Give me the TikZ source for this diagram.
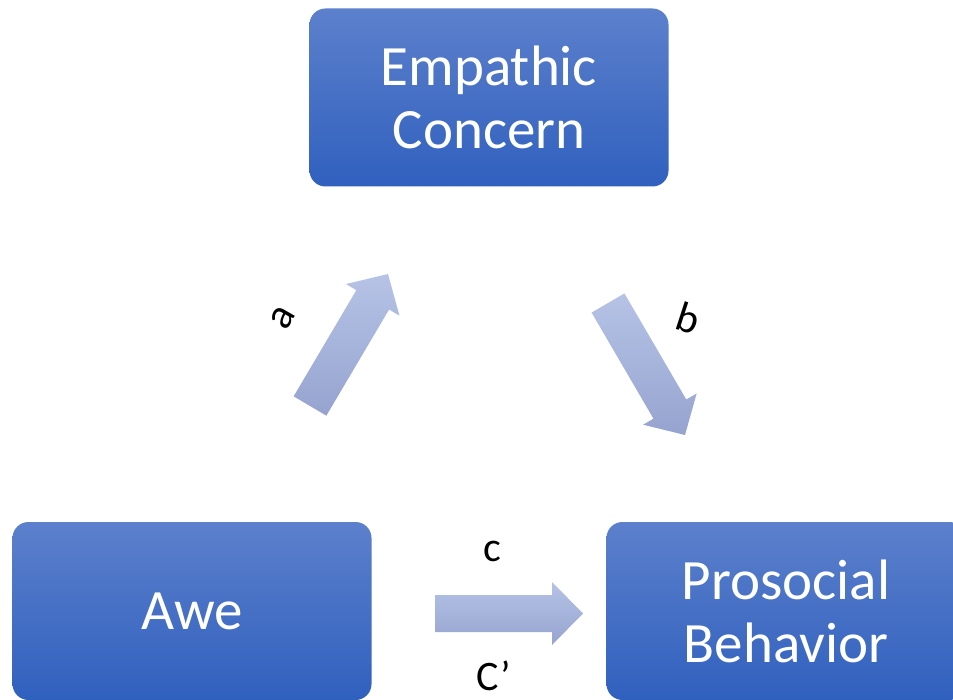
\documentclass[tikz,border=0pt]{standalone}
\usepackage{fontspec}
\setmainfont{Carlito}
\usetikzlibrary{calc}
\definecolor{boxtop}{RGB}{92,128,204}
\definecolor{boxbot}{RGB}{48,96,190}
\definecolor{arrtop}{RGB}{182,195,230}
\definecolor{arrbot}{RGB}{150,163,207}
\tikzset{
  box/.style={rectangle, rounded corners=16pt, top color=boxtop, bottom color=boxbot,
    draw=none, text=white, align=center, minimum width=359pt, minimum height=178pt,
    font={\fontsize{57}{63}\selectfont}},
  lbl/.style={text=black, font={\fontsize{42}{46}\selectfont}, inner sep=0pt},
  blockarrow/.style={top color=arrtop, bottom color=arrbot, draw=none}
}
\newcommand{\blockarr}[5]{%
  % #1 tail, #2 tip, #3 half shaft width, #4 half head width, #5 head length
  \path[blockarrow]
    ($(#1)!#3!90:(#2)$) --
    ($($(#2)!#5!(#1)$)!#3!90:(#2)$) --
    ($($(#2)!#5!(#1)$)!#4!90:(#2)$) --
    (#2) --
    ($($(#2)!#5!(#1)$)!#4!-90:(#2)$) --
    ($($(#2)!#5!(#1)$)!#3!-90:(#2)$) --
    ($(#1)!#3!-90:(#2)$) -- cycle;}
\begin{document}
\begin{tikzpicture}[x=1pt,y=-1pt]
\useasboundingbox (0,0) rectangle (953,700);
\clip (0,0) rectangle (953,700);
\fill[white] (0,0) rectangle (953,700);

\node[box] (emp) at (489,97.5) {Empathic\\Concern};
\node[box] (awe) at (192,611) {Awe};
\node[box] (pro) at (786,611) {Prosocial\\Behavior};

\coordinate (atail) at (310,406);
\coordinate (atip) at (388,274);
\coordinate (btail) at (608,303);
\coordinate (btip) at (685,435);
\coordinate (ctail) at (435,613.5);
\coordinate (ctip) at (583,613.5);

\blockarr{atail}{atip}{19pt}{31pt}{30pt}
\blockarr{btail}{btip}{19pt}{31pt}{30pt}
\blockarr{ctail}{ctip}{18.5pt}{31.5pt}{31pt}

\node[lbl, rotate=60] (la) at (283,318) {a};
\node[lbl, rotate=-18] (lb) at (688,318) {b};
\node[lbl] (lc) at (492,551) {c};
\node[lbl] (lc2) at (494,676) {C’};
\end{tikzpicture}
\end{document}
